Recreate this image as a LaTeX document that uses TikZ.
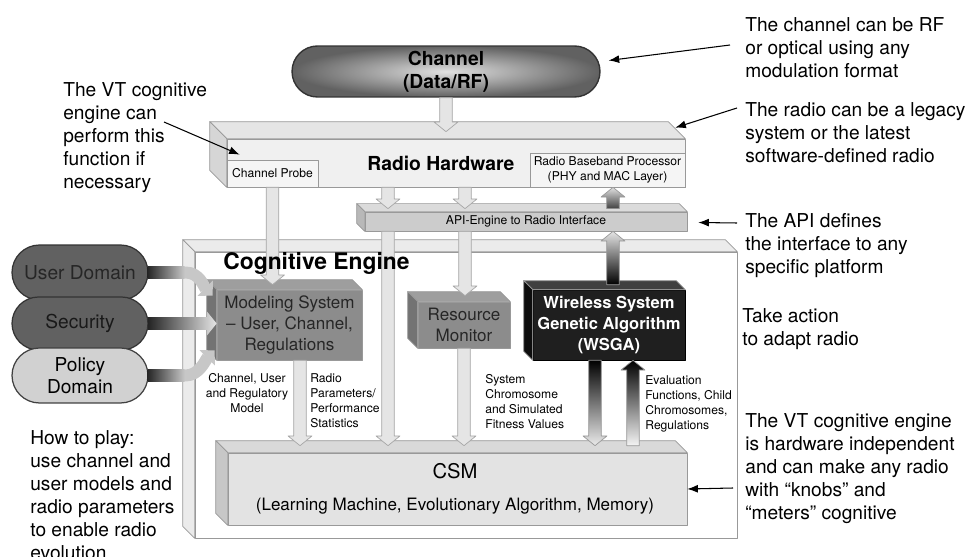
\documentclass[tikz,border=0pt]{standalone}
\usepackage{fontspec}
\setmainfont{TeX Gyre Heros}
\usetikzlibrary{calc,arrows.meta,shapes.misc}

\tikzset{
  note/.style={anchor=north west, inner sep=0pt, align=left,
    font=\fontsize{10.9}{13.1}\selectfont},
  small/.style={inner sep=0pt, font=\fontsize{6.9}{8.6}\selectfont},
  face/.style={inner sep=0pt, draw=black!40, line width=0.4pt},
  pointer/.style={-{Latex[length=6pt,width=4.5pt]}, line width=0.6pt},
  hollow/.style={fill=black!10, draw=black!35, line width=0.4pt},
  band/.style={line width=6.8pt, draw=black!22, -{Triangle[width=12pt,length=6pt]}},
  pill/.style={rounded rectangle, inner sep=0pt, line width=0.7pt,
    minimum width=2.72cm, align=center, font=\fontsize{10.9}{12.5}\selectfont},
}

% top and left faces of a box drawn as a node
\newcommand{\boxfaces}[4]{%
  \path[face, fill=#3] (#1.north west) -- ++(-#2,-#2)
    -- ($(#1.north east)+(-#2,-#2)$) -- (#1.north east) -- cycle;
  \path[face, fill=#4] (#1.north west) -- ++(-#2,-#2)
    -- ($(#1.south west)+(-#2,-#2)$) -- (#1.south west) -- cycle;
}
% wide arrow from #2 to #3
\newcommand{\blockarrow}[3][hollow]{%
  \coordinate (hb) at ($(#3)!5.5pt!(#2)$);
  \path[#1] ($(#2)!3.6pt!90:(#3)$) -- ($(hb)!3.6pt!90:(#3)$)
    -- ($(hb)!6.8pt!90:(#3)$) -- (#3) -- ($(hb)!6.8pt!-90:(#3)$)
    -- ($(hb)!3.6pt!-90:(#3)$) -- ($(#2)!3.6pt!-90:(#3)$) -- cycle;
}

\begin{document}
\begin{tikzpicture}[x=0.02cm, y=-0.02cm, line join=round]
\useasboundingbox (0,0) rectangle (971,557);

% cognitive engine frame
\node[face, fill=white, minimum width=10.84cm, minimum height=5.72cm] (ce) at (466,395) {};
\boxfaces{ce}{12}{black!8}{black!8}

% radio hardware
\node[face, fill=black!6, minimum width=9.16cm, minimum height=0.96cm] (rh) at (456,163) {};
\boxfaces{rh}{17}{black!10}{black!16}
\node[face, fill=black!4, small, minimum width=1.82cm, minimum height=0.54cm]
  (probe) at (272.5,173.5) {Channel Probe};
\node[face, fill=black!4, small, align=center, minimum width=3.1cm, minimum height=0.68cm]
  (bb) at (607.5,170) {Radio Baseband Processor\\(PHY and MAC Layer)};
\node[anchor=base west, inner sep=0pt, font=\bfseries\fontsize{11}{13}\selectfont]
  (rhlabel) at (367,171) {Radio Hardware};

% api
\node[face, fill=black!20, small, minimum width=6.44cm, minimum height=0.38cm]
  (api) at (526,221.5) {API-Engine to Radio Interface};
\boxfaces{api}{8}{black!14}{black!28}

% engine blocks
\node[face, fill=black!45, text=black!85, align=center, font=\fontsize{9.7}{12}\selectfont,
  minimum width=2.9cm, minimum height=1.4cm] (model) at (289.5,325)
  {Modeling System\\– User, Channel,\\Regulations};
\boxfaces{model}{10}{black!38}{black!55}
\node[face, fill=black!45, text=black!85, align=center, font=\fontsize{9.7}{12}\selectfont,
  minimum width=1.84cm, minimum height=0.92cm] (res) at (464,325) {Resource\\Monitor};
\boxfaces{res}{10}{black!38}{black!55}
\node[face, draw=black, fill=black!88, text=white, align=center,
  font=\bfseries\fontsize{9.4}{11.7}\selectfont,
  minimum width=3.04cm, minimum height=1.4cm] (wsga) at (609,325)
  {Wireless System\\Genetic Algorithm\\(WSGA)};
\boxfaces{wsga}{9}{black!75}{black!95}
\node[face, fill=black!11, minimum width=9.18cm, minimum height=1.44cm] (csm) at (457.5,489) {};
\boxfaces{csm}{12}{black!15}{black!22}
\node[anchor=base, inner sep=0pt, font=\fontsize{11.5}{13}\selectfont] (csmlabel) at (455,479) {CSM};
\node[anchor=base, inner sep=0pt, font=\fontsize{9.7}{12}\selectfont] (csmsub) at (455,510)
  {(Learning Machine, Evolutionary Algorithm, Memory)};

% channel
\node[rounded rectangle, draw=black!80, line width=0.8pt, inner color=black!12,
  outer color=black!62, minimum width=6.16cm, minimum height=1.02cm, inner sep=0pt,
  align=center, font=\bfseries\fontsize{11}{13}\selectfont] (chan) at (446,71.5)
  {Channel\\(Data/RF)};

% arrow columns and targets
\coordinate (colA) at (388,0);
\coordinate (colB) at (465,0);
\coordinate (colM) at (300,0);
\coordinate (colD) at (595,0);
\coordinate (colU) at (633,0);
\coordinate (colI) at (613,0);
\coordinate (rhtop) at ($(rh.north)+(0,-7)$);
\coordinate (apitop) at ($(api.north)+(0,-3)$);
\coordinate (modeltop) at ($(model.north)+(0,-5)$);
\coordinate (restop) at ($(res.north)+(0,-6)$);
\coordinate (wsgatop) at ($(wsga.north)+(0,-5)$);
\coordinate (csmtop) at ($(csm.north)+(0,-7)$);

\blockarrow{chan.south}{chan.south |- rhtop}
\blockarrow{probe.south}{probe.south |- modeltop}
\blockarrow{rh.south -| colA}{apitop -| colA}
\blockarrow{api.south -| colA}{csmtop -| colA}
\blockarrow{rh.south -| colB}{apitop -| colB}
\blockarrow{api.south -| colB}{restop -| colB}
\blockarrow{res.south}{res.south |- csmtop}
\blockarrow{model.south -| colM}{csmtop -| colM}
\blockarrow[top color=black, bottom color=black!8, draw=black!40, line width=0.4pt]{wsga.south -| colD}{csmtop -| colD}
\blockarrow[top color=black, bottom color=black!4, draw=black!40, line width=0.4pt]{csmtop -| colU}{wsga.south -| colU}
\blockarrow[top color=black!10, bottom color=black, draw=black!40, line width=0.4pt]{wsgatop -| colI}{api.south -| colI}
\blockarrow[top color=black!12, bottom color=black!75, draw=black!40, line width=0.4pt]{apitop -| colI}{bb.south -| colI}

\node[anchor=base west, inner sep=0pt, font=\bfseries\fontsize{13}{15}\selectfont]
  (celabel) at (223,270) {Cognitive Engine};

% domains
\node[pill, fill=black!62, draw=black!80, text=black!85, minimum height=1.1cm] (ud) at (80,272.5) {User Domain};
\node[pill, fill=black!62, draw=black!80, text=black!90, minimum height=1.06cm] (sec) at (80,323.5) {Security};
\node[pill, fill=black!18, draw=black!75, minimum height=1.1cm] (pd) at (80,375.5) {Policy\\Domain};
\draw[band] ($(ud.east)+(-1,0)$) -- ++(38,0) .. controls +(14,0) and +(-9,-9) .. ($(model.north west)+(-4,6)$);
\shade[left color=black!85, right color=black!22] ($(ud.east)+(-1,-6)$) rectangle ($(ud.east)+(36,6)$);
\draw[band] ($(pd.east)+(-1,0)$) -- ++(38,0) .. controls +(14,0) and +(-9,9) .. ($(model.south west)+(-2,-10)$);
\shade[left color=black!85, right color=black!22] ($(pd.east)+(-1,-6)$) rectangle ($(pd.east)+(36,6)$);
\blockarrow[left color=black!85, right color=black!10, draw=none]{sec.east}{sec.east -| model.west}

% flow labels
\node[small, anchor=north, align=center] (lblmodel) at (247,373) {Channel, User\\and Regulatory\\Model};
\node[small, anchor=north west, align=left] (lblradio) at (310,373) {Radio\\Parameters/\\Performance\\Statistics};
\node[small, anchor=north west, align=left] (lblfit) at (485,374) {System\\Chromosome\\and Simulated\\Fitness Values};
\node[small, anchor=north west, align=left] (lbleval) at (645,375) {Evaluation\\Functions, Child\\Chromosomes,\\Regulations};

% notes
\node[note] (notevt) at (63,82) {The VT cognitive\\engine can\\perform this\\function if\\necessary};
\node[note] (notechan) at (745,17) {The channel can be RF\\or optical using any\\modulation format};
\node[note] (noteradio) at (745,102) {The radio can be a legacy\\system or the latest\\software-defined radio};
\node[note] (noteapi) at (745,213) {The API defines\\the interface to any\\specific platform};
\node[note] (noteact) at (742,308) {Take action\\to adapt radio};
\node[note] (notehw) at (745,413) {The VT cognitive engine\\is hardware independent\\and can make any radio\\with “knobs” and\\“meters” cognitive};
\node[note] (noteplay) at (30,430) {How to play:\\use channel and\\user models and\\radio parameters\\to enable radio\\evolution};

\coordinate (vtfrom) at (164,122);
\draw[pointer] (vtfrom) -- ($(probe.north west)+(13,-5)$);
\draw[pointer] ($(notechan.north west)+(-15,28)$) -- ($(chan.east)+(8,-11)$);
\draw[pointer] ($(noteradio.north west)+(-8,6)$) -- ($(rh.north east)+(-10,-11)$);
\draw[pointer] ($(noteapi.north west)+(-8,10)$) -- ($(api.east)+(11,1)$);
\draw[pointer] ($(notehw.north west)+(-12,75)$) -- (csm.east);
\end{tikzpicture}
\end{document}
